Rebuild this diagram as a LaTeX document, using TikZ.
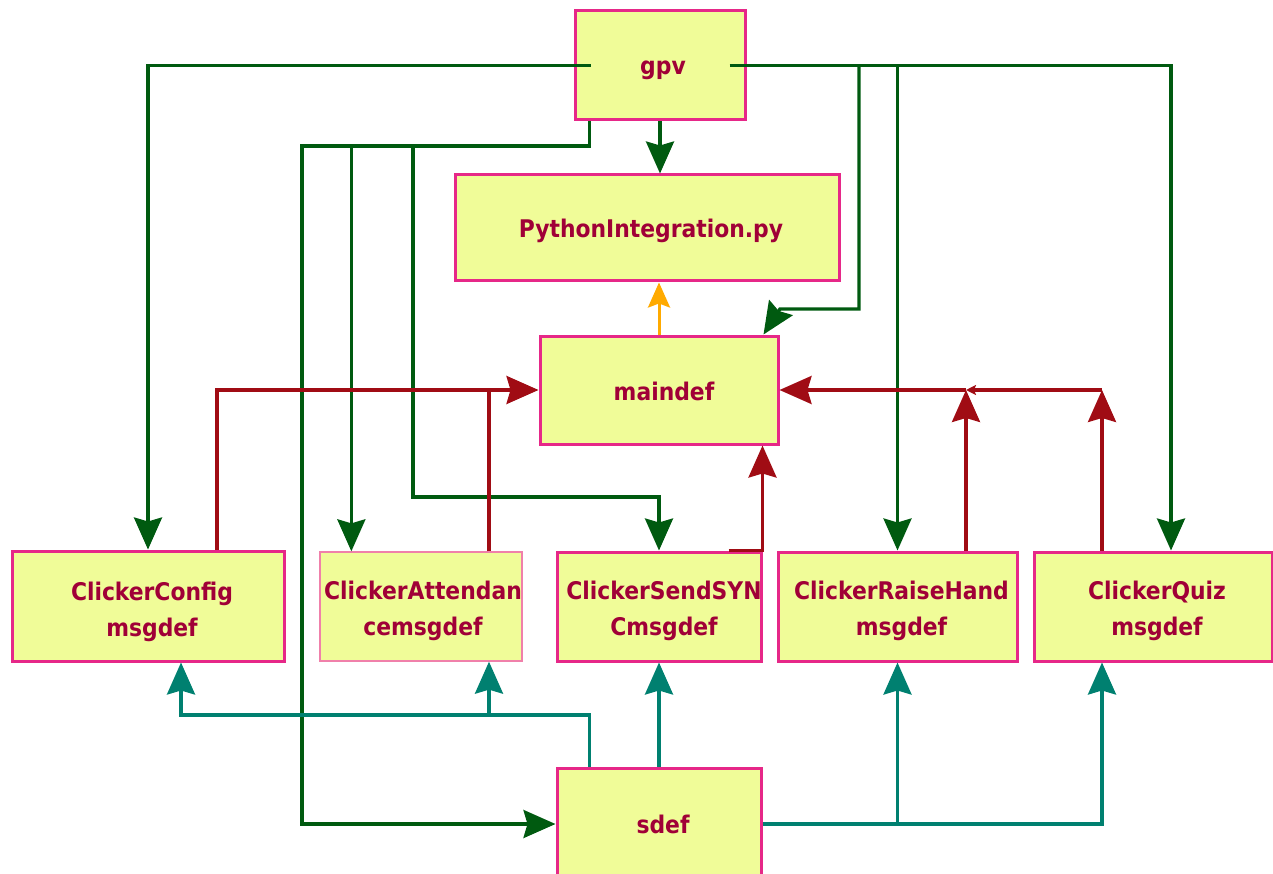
\documentclass[tikz,border=0pt]{standalone}
\usepackage{fontspec}
\newfontfamily\lab{DejaVu Sans Condensed}
\usetikzlibrary{arrows.meta,calc}
\definecolor{boxfill}{RGB}{240,252,152}
\definecolor{boxline}{RGB}{230,40,136}
\definecolor{softline}{RGB}{240,128,170}
\definecolor{labtext}{RGB}{160,0,55}
\definecolor{gline}{RGB}{0,90,16}
\definecolor{rline}{RGB}{160,12,20}
\definecolor{tline}{RGB}{0,128,112}
\definecolor{oline}{RGB}{255,170,0}
\begin{document}
\begin{tikzpicture}[x=1pt,y=-1pt,
  box/.style={draw=boxline,line width=3pt,fill=boxfill,inner sep=0pt},
  lbl/.style={inner sep=0pt,font=\lab\bfseries\fontsize{24.3}{36}\selectfont,text=labtext,align=center},
  big/.style={-{Stealth[length=32pt,width=28pt,inset=4pt]}},
  gc/.style={draw=gline,line width=3.4pt},
  rc/.style={draw=rline,line width=3.4pt},
  tc/.style={draw=tline,line width=3.4pt},
  oc/.style={draw=oline,line width=3pt,-{Stealth[length=25pt,width=22pt,inset=4pt]}},
  tiny/.style={-{Stealth[length=10pt,width=10pt,inset=2pt]}}]
\useasboundingbox (0,0) rectangle (1273,874);

% boxes
\node[box,minimum width=170pt,minimum height=109pt] (gpv) at (660,65.5) {};
\node[box,minimum width=384pt,minimum height=106pt] (python) at (647,228) {};
\node[box,minimum width=238pt,minimum height=108pt] (maindef) at (659,390) {};
\node[box,minimum width=272pt,minimum height=110pt] (config) at (148,606) {};
\node[box,draw=softline,line width=1.3pt,minimum width=202pt,minimum height=109pt] (attend) at (421,606.5) {};
\node[box,minimum width=204pt,minimum height=109pt] (sync) at (659,606.5) {};
\node[box,minimum width=239pt,minimum height=109pt] (raise) at (897.5,606.5) {};
\node[box,minimum width=238pt,minimum height=109pt] (quiz) at (1153,606.5) {};
\node[box,minimum width=204pt,minimum height=112pt] (sdef) at (659,824) {};

% box captions
\node[lbl] (gpvt) at ($(gpv)+(3,5)$) {gpv};
\node[lbl] (pythont) at ($(python)+(4,2.5)$) {PythonIntegration.py};
\node[lbl] (maindeft) at ($(maindef)+(5,1.5)$) {maindef};
\node[lbl] (configt) at ($(config)+(4,6)$) {ClickerConfig\\msgdef};
\node[lbl] (attendt) at ($(attend)+(2,4.5)$) {ClickerAttendan\\cemsgdef};
\node[lbl] (synct) at ($(sync)+(5,4.5)$) {ClickerSendSYN\\Cmsgdef};
\node[lbl] (raiset) at ($(raise)+(4,4.5)$) {ClickerRaiseHand\\msgdef};
\node[lbl] (quizt) at ($(quiz)+(4,4.5)$) {ClickerQuiz\\msgdef};
\node[lbl] (sdeft) at ($(sdef)+(4,0)$) {sdef};

% attachment points
\coordinate (gl) at ($(gpv.west)+(17,0)$);
\coordinate (gr) at ($(gpv.east)+(-17,0)$);
\coordinate (gsw) at ($(gpv.south west)+(16,0)$);
\coordinate (gbus) at (302,146);
\coordinate (atn) at ($(attend.north west)+(32,0)$);
\coordinate (syb) at (413,497);
\coordinate (qn) at ($(quiz.north)+(18,0)$);
\coordinate (mdv) at (859,309);
\coordinate (mdh) at (780,309);
\coordinate (mdtip) at ($(maindef.north east)+(-16,0)$);
\coordinate (cfr) at ($(config.north)+(69,0)$);
\coordinate (atr) at ($(attend.north)+(68,0)$);
\coordinate (syr) at ($(sync.north east)+(-34,0)$);
\coordinate (rar) at ($(raise.north)+(68.5,0)$);
\coordinate (qur) at ($(quiz.north)+(-51,0)$);
\coordinate (s1) at ($(sdef.north west)+(34,0)$);
\coordinate (tbus) at (0,715);
\coordinate (cfb) at ($(config.south)+(33,0)$);
\coordinate (atb) at ($(attend.south)+(68,0)$);
\coordinate (qub) at ($(quiz.south)+(-51,0)$);

% gpv outputs
\draw[gc,big] (gl) -| (config.north);
\draw[gc,big] (gr) -| (qn);
\draw[gc,big] (gr -| raise.north) -- (raise.north);
\draw[gc,big] (gr -| mdv) -- (mdv) -- (mdh) -- (mdtip);
\draw[gc,big] (gpv.south) -- (gpv.south |- python.north);
\draw[gc,big] (gsw) |- (gbus) |- (sdef.west);
\draw[gc,big] (gbus -| atn) -- (atn);
\draw[gc,big] (gbus -| syb) -- (syb) -| (sync.north);

% maindef to python
\draw[oc] (maindef.north) -- (maindef.north |- python.south);

% message definitions into maindef
\draw[rc,big] (cfr) |- (maindef.west);
\draw[rc] (atr) -- (atr |- maindef.west);
\draw[rc,big] (syr) -- (sync.north east) -- (sync.north east |- maindef.south);
\draw[rc,big] (rar) -- (rar |- maindef.east);
\draw[rc,big] (qur) -- (qur |- maindef.east);
\draw[rc,tiny] (qur |- maindef.east) -- (rar |- maindef.east);
\draw[rc,big] (rar |- maindef.east) -- (maindef.east);

% sdef outputs
\draw[tc,big] (s1) |- (cfb |- tbus) -- (cfb);
\draw[tc,big] (atb |- tbus) -- (atb);
\draw[tc,big] (sdef.north) -- (sdef.north |- sync.south);
\draw[tc,big] (sdef.east) -| (qub);
\draw[tc,big] (sdef.east -| raise.south) -- (raise.south);
\end{tikzpicture}
\end{document}
